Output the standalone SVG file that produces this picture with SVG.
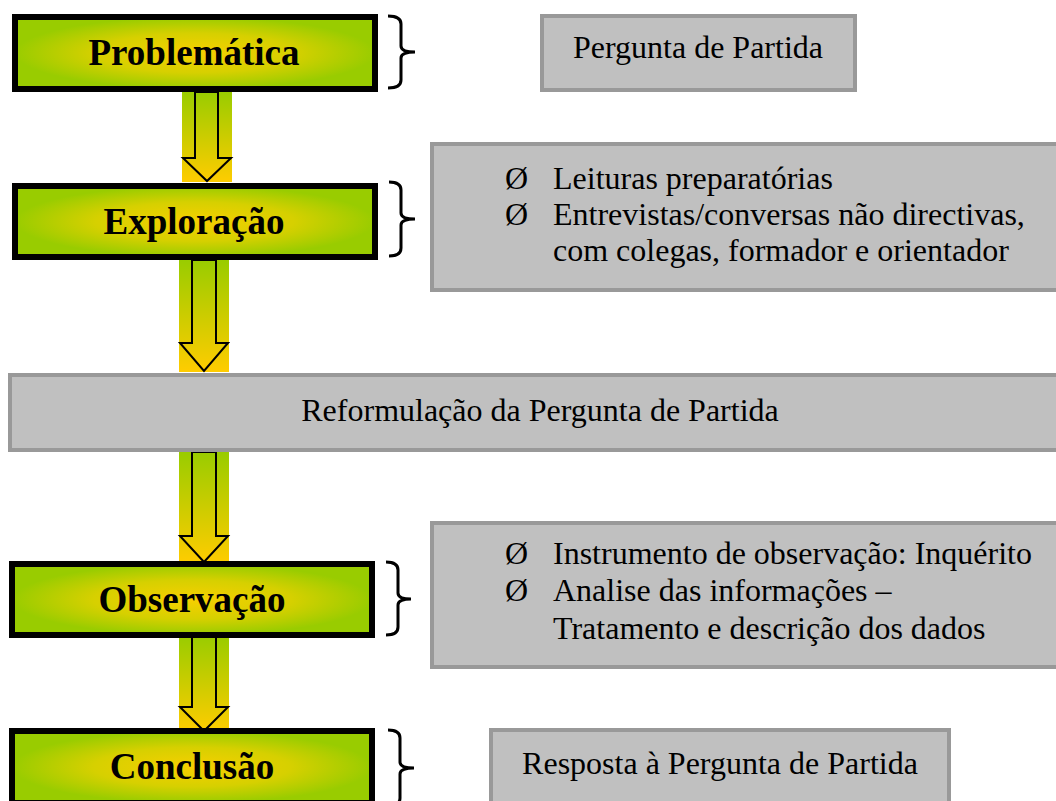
<svg xmlns="http://www.w3.org/2000/svg" width="1056" height="801" viewBox="0 0 1056 801">
<defs>
<radialGradient id="gbox" cx="0.5" cy="0.5" r="0.5" gradientUnits="objectBoundingBox">
<stop offset="0" stop-color="#f7cf00"/>
<stop offset="0.55" stop-color="#d6d000"/>
<stop offset="1" stop-color="#99cc00"/>
</radialGradient>
<linearGradient id="garrow" x1="0" y1="0" x2="0" y2="1">
<stop offset="0" stop-color="#99cc00"/>
<stop offset="1" stop-color="#ffcc00"/>
</linearGradient>
<style>
.step{fill:url(#gbox);stroke:#000;stroke-width:6}
.lbl{font-family:"Liberation Serif","Times New Roman",serif;font-weight:bold;font-size:37px;text-anchor:middle;fill:#000}
.gbx{fill:#c0c0c0;stroke:#999;stroke-width:4}
.txt{font-family:"Liberation Serif","Times New Roman",serif;font-size:32px;fill:#000}
.mid{text-anchor:middle}
.brace{fill:none;stroke:#000;stroke-width:3}
.abg{fill:url(#garrow)}
.arr{fill:none;stroke:#000;stroke-width:2}
</style>
</defs>
<rect width="1056" height="801" fill="#fff"/>

<g id="connectors">
<rect class="abg" x="182" y="92" width="50" height="90"/>
<polygon class="arr" points="195,92 218,92 218,158 231,158 207,181 183,158 195,158"/>
<rect class="abg" x="179" y="260" width="50" height="112"/>
<polygon class="arr" points="192,260 216,260 216,343 228,343 204,371 180,343 192,343"/>
<rect class="abg" x="179" y="452" width="50" height="111"/>
<polygon class="arr" points="192,452 216,452 216,536 228,536 204,562 180,536 192,536"/>
<rect class="abg" x="179" y="636" width="50" height="96"/>
<polygon class="arr" points="192,636 216,636 216,707 228,707 204,731 180,707 192,707"/>
<path class="brace" d="M388 16 Q401 16 401 24 L401 46 Q401 52 415 52 Q401 52 401 58 L401 80 Q401 88 388 88"/>
<path class="brace" d="M389 182 Q401 182 401 190 L401 213 Q401 219 415 219 Q401 219 401 225 L401 248 Q401 256 389 256"/>
<path class="brace" d="M386 562 Q398 562 398 570 L398 593 Q398 599 411 599 Q398 599 398 605 L398 627 Q398 635 386 635"/>
<path class="brace" d="M388 730 Q400 730 400 738 L400 762 Q400 768 414 768 Q400 768 400 774 L400 798 Q400 806 388 806"/>
</g>

<g id="problematica">
<rect class="step" x="15" y="17" width="360" height="72"/>
<text class="lbl" x="194" y="65">Problemática</text>
</g>
<g id="exploracao">
<rect class="step" x="15" y="186" width="360" height="71"/>
<text class="lbl" x="194" y="234">Exploração</text>
</g>
<g id="observacao">
<rect class="step" x="12" y="564" width="360" height="71"/>
<text class="lbl" x="192" y="612">Observação</text>
</g>
<g id="conclusao">
<rect class="step" x="12" y="731" width="360" height="72"/>
<text class="lbl" x="192" y="779">Conclusão</text>
</g>

<g id="pergunta">
<rect class="gbx" x="542" y="16" width="313" height="74"/>
<text class="txt mid" x="698" y="58">Pergunta de Partida</text>
</g>
<g id="exploracao-notes">
<rect class="gbx" x="432" y="144" width="640" height="146"/>
<text class="txt" x="505" y="189">Ø</text>
<text class="txt" x="553" y="189">Leituras preparatórias</text>
<text class="txt" x="505" y="225">Ø</text>
<text class="txt" x="553" y="225">Entrevistas/conversas não directivas,</text>
<text class="txt" x="553" y="261">com colegas, formador e orientador</text>
</g>
<g id="reformulacao">
<rect class="gbx" x="10" y="375" width="1060" height="75"/>
<text class="txt mid" x="540" y="421">Reformulação da Pergunta de Partida</text>
</g>
<g id="observacao-notes">
<rect class="gbx" x="432" y="523" width="640" height="144"/>
<text class="txt" x="505" y="564">Ø</text>
<text class="txt" x="553" y="564">Instrumento de observação: Inquérito</text>
<text class="txt" x="505" y="601">Ø</text>
<text class="txt" x="553" y="601">Analise das informações –</text>
<text class="txt" x="553" y="639">Tratamento e descrição dos dados</text>
</g>
<g id="resposta">
<rect class="gbx" x="491" y="730" width="458" height="80"/>
<text class="txt mid" x="720" y="774">Resposta à Pergunta de Partida</text>
</g>
</svg>
